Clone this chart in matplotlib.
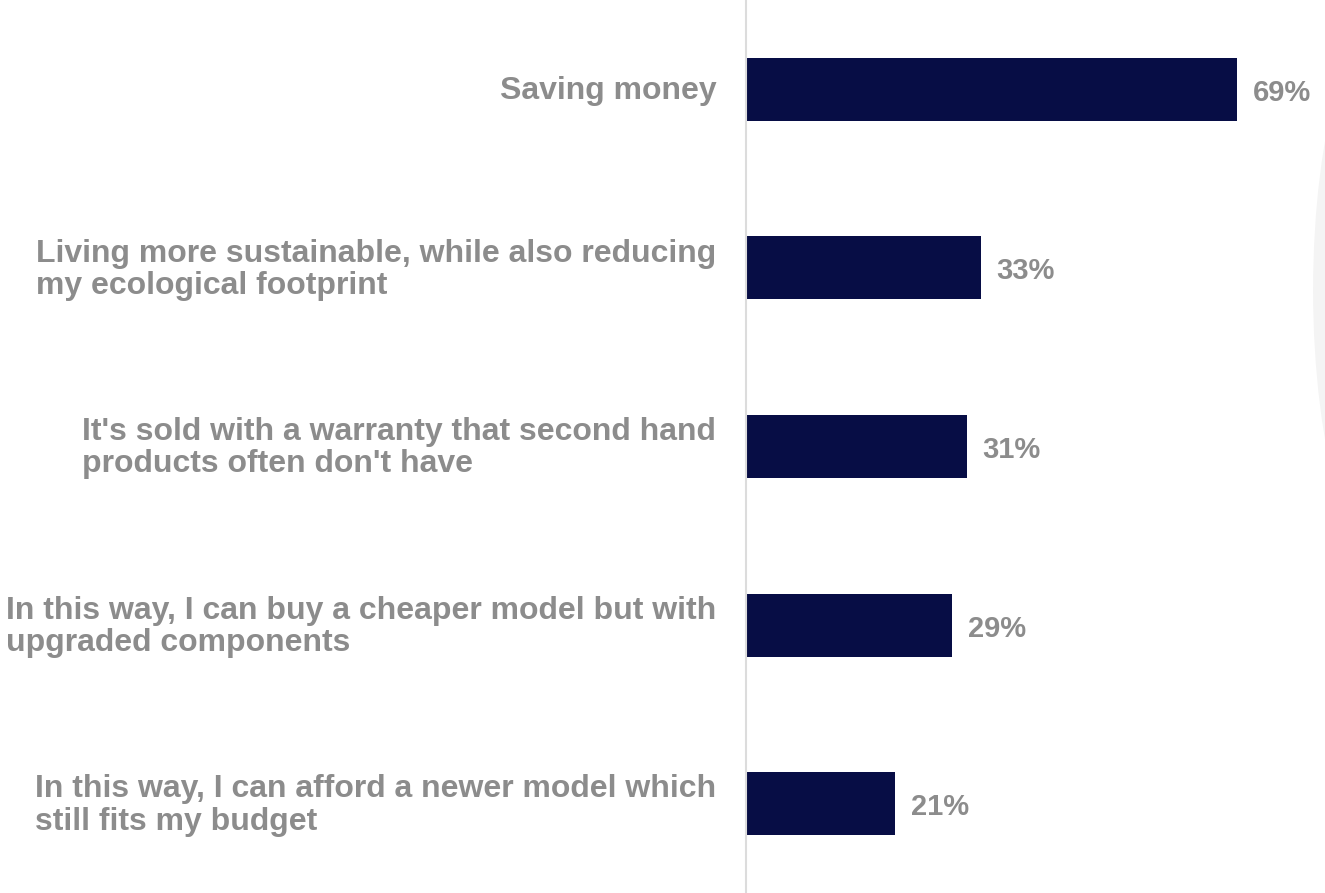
import matplotlib.pyplot as plt
from matplotlib.patches import Ellipse

plt.rcParams['font.family'] = ['Liberation Sans', 'DejaVu Sans']

reasons = [
    "Saving money",
    "Living more sustainable, while also reducing\nmy ecological footprint",
    "It's sold with a warranty that second hand\nproducts often don't have",
    "In this way, I can buy a cheaper model but with\nupgraded components",
    "In this way, I can afford a newer model which\nstill fits my budget",
]
shares = [69, 33, 31, 29, 21]

bar_color = "#070d45"
text_color = "#8c8c8c"

fig = plt.figure(figsize=(13.25, 8.93), dpi=100)

# faint watermark arc on the right edge
arc = Ellipse((1.059, 0.675), 0.136, 0.672, transform=fig.transFigure,
              facecolor="#f4f4f4", edgecolor="none", zorder=0)
fig.patches.append(arc)

ax = fig.add_axes([746 / 1325, 0, 1 - 746 / 1325, 1])
ax.patch.set_alpha(0)

ypos = list(range(len(shares)))
ax.barh(ypos, shares, height=0.352, color=bar_color)

for y, v in zip(ypos, shares):
    ax.text(v + 2.25, y + 0.02, f"{v}%", va="center", ha="left",
            fontsize=21, fontweight="bold", color=text_color)

for y, lab in zip(ypos, reasons):
    ax.text(-4.2, y + 0.01, lab, va="center", ha="right", multialignment="left",
            fontsize=23, fontweight="bold", color=text_color,
            linespacing=1.1, clip_on=False)

ax.set_xlim(0, 81.4)
ax.set_ylim(4.5, -0.5)
ax.set_xticks([])
ax.set_yticks([])
for s in ["top", "right", "bottom"]:
    ax.spines[s].set_visible(False)
ax.spines["left"].set_color("#dcdcdc")
ax.spines["left"].set_linewidth(1.5)

fig.savefig("out.png", dpi=100)
